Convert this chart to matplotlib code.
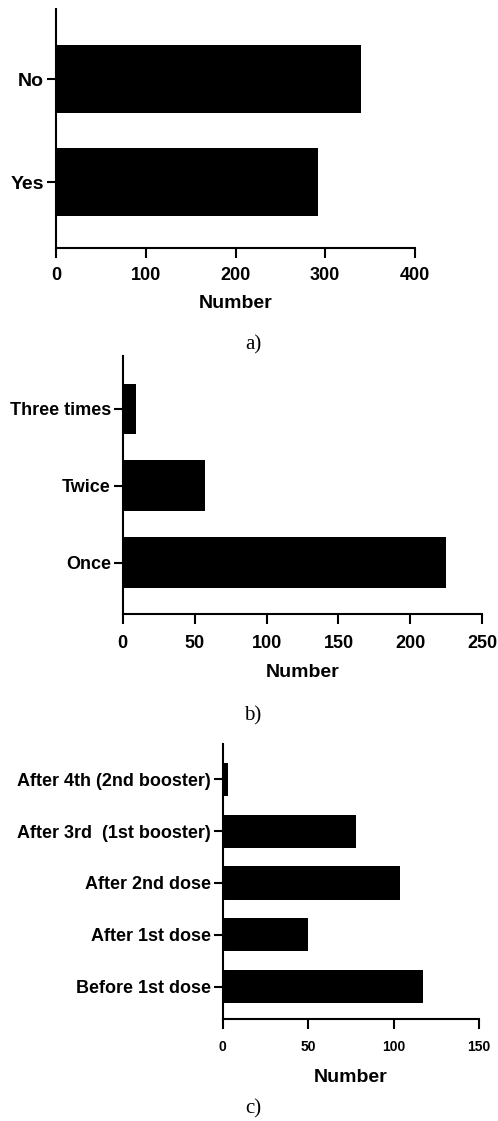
import matplotlib
matplotlib.use("Agg")
import matplotlib.pyplot as plt

# a) yes / no
cats_a = ["Yes", "No"]
vals_a = [292, 340]

# b) how many times
cats_b = ["Once", "Twice", "Three times"]
vals_b = [225, 57, 9]

# c) timing
cats_c = ["Before 1st dose", "After 1st dose", "After 2nd dose",
          "After 3rd  (1st booster)", "After 4th (2nd booster)"]
vals_c = [117, 50, 104, 78, 3]

W, H = 498, 1121
plt.rcParams["font.family"] = "Liberation Sans"
plt.rcParams["font.weight"] = "bold"

fig = plt.figure(figsize=(W / 100, H / 100), dpi=100)


def px_axes(left, top, right, bottom):
    return fig.add_axes([left / W, 1 - bottom / H, (right - left) / W, (bottom - top) / H])


def panel(ax, cats, vals, xmax, step, ylim, height, tick_fs, label_fs, pad, labelpad):
    y = range(len(cats))
    ax.barh(y, vals, height=height, color="black")
    ax.set_xlim(0, xmax)
    ax.set_ylim(*ylim)
    ax.set_xticks(range(0, xmax + 1, step))
    ax.set_yticks(list(y))
    ax.set_yticklabels(cats, fontsize=label_fs, fontweight="bold")
    ax.tick_params(axis="x", labelsize=tick_fs, width=1.5, length=7, pad=pad)
    ax.tick_params(axis="y", width=1.5, length=6.5, pad=2)
    for t in ax.get_xticklabels():
        t.set_fontweight("bold")
    for s in ["top", "right"]:
        ax.spines[s].set_visible(False)
    for s in ["left", "bottom"]:
        ax.spines[s].set_linewidth(1.5)
    ax.set_xlabel("Number", fontsize=14, fontweight="bold", labelpad=labelpad)


ax_a = px_axes(56, 9, 415, 248)
panel(ax_a, cats_a, vals_a, 400, 100, (-0.64, 1.68), 0.66, 13, 14, 6.5, 8)

ax_b = px_axes(122.7, 356, 482.3, 614)
panel(ax_b, cats_b, vals_b, 250, 50, (-0.67, 2.69), 0.66, 13, 13, 8, 9)

ax_c = px_axes(222.7, 744, 479, 1019.3)
panel(ax_c, cats_c, vals_c, 150, 50, (-0.63, 4.68), 0.64, 10, 13, 8, 11)

for lab, yc in [("a)", 345), ("b)", 716), ("c)", 1109)]:
    fig.text(253 / W, 1 - yc / H, lab, family="Liberation Serif", fontweight="normal",
             fontsize=15, ha="center", va="center")

fig.savefig("out.png", dpi=100)
